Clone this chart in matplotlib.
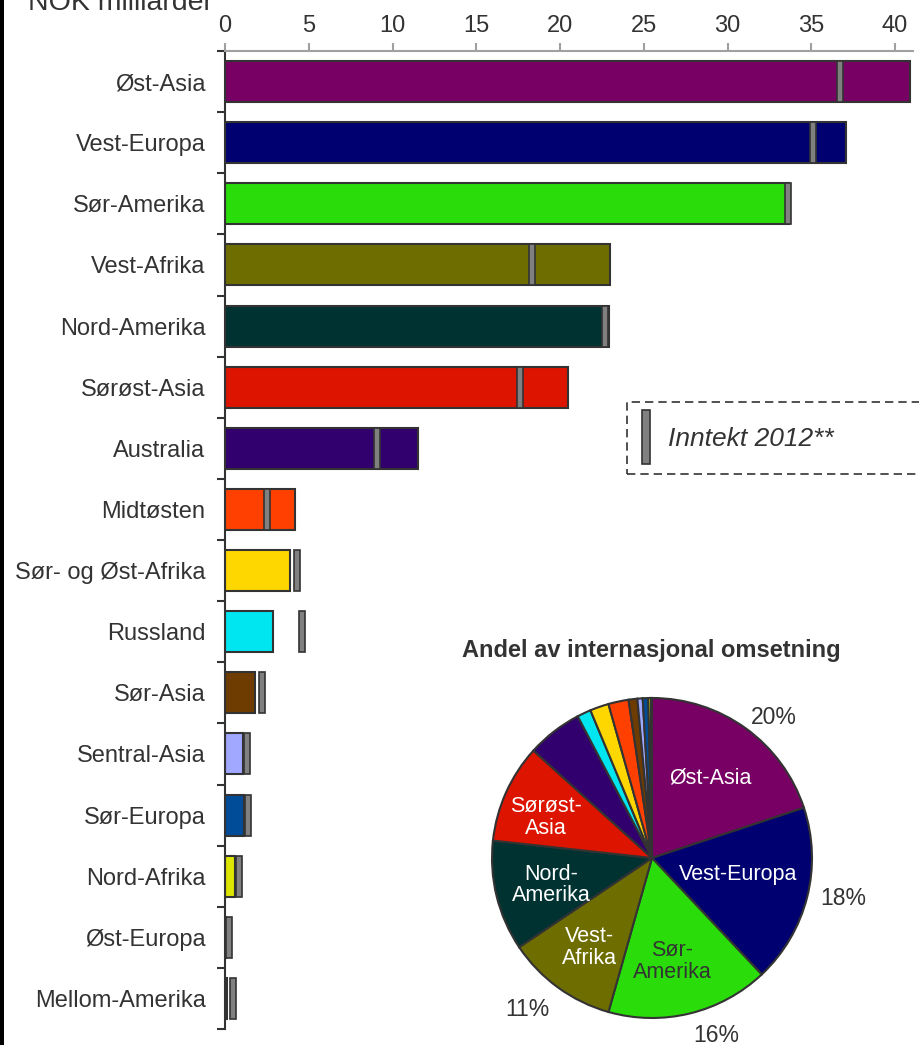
import matplotlib
matplotlib.use("Agg")
from matplotlib import pyplot as plt
from matplotlib.patches import Rectangle
import numpy as np

plt.rcParams['font.family'] = ['Liberation Sans', 'DejaVu Sans']

# regions, top to bottom
regions = ['Øst-Asia', 'Vest-Europa', 'Sør-Amerika', 'Vest-Afrika', 'Nord-Amerika',
           'Sørøst-Asia', 'Australia', 'Midtøsten', 'Sør- og Øst-Afrika', 'Russland',
           'Sør-Asia', 'Sentral-Asia', 'Sør-Europa', 'Nord-Afrika', 'Øst-Europa',
           'Mellom-Amerika']
# omsetning, NOK milliarder
values = [40.9, 37.1, 33.7, 23.0, 22.9, 20.5, 11.5, 4.2, 3.9, 2.87,
          1.81, 1.1, 1.15, 0.58, 0.05, 0.12]
# inntekt 2012
income_2012 = [36.7, 35.1, 33.6, 18.3, 22.7, 17.6, 9.1, 2.5, 4.3, 4.6,
               2.2, 1.3, 1.35, 0.82, 0.24, 0.46]
colors = ['#780064', '#000070', '#2adc0a', '#6e6e00', '#003232',
          '#dc1400', '#32006e', '#ff4000', '#ffd700', '#00e6f0',
          '#6e3c00', '#a0a8ff', '#004c98', '#dce600', '#505050',
          '#303030']

# slice order in the pie
pie_order = ['Øst-Asia', 'Vest-Europa', 'Sør-Amerika', 'Vest-Afrika', 'Nord-Amerika',
             'Sørøst-Asia', 'Australia', 'Russland', 'Sør- og Øst-Afrika', 'Midtøsten',
             'Sør-Asia', 'Sentral-Asia', 'Sør-Europa', 'Nord-Afrika', 'Øst-Europa',
             'Mellom-Amerika']
# percentage labels outside the pie: (angle in degrees, radius)
pie_pct = {'Øst-Asia': (49, 1.16),
           'Vest-Europa': (-12, 1.225),
           'Sør-Amerika': (-70, 1.18),
           'Vest-Afrika': (-129.5, 1.225)}
# inner pie labels: (text, angle in degrees, radius)
pie_inner = {'Øst-Asia': ('Øst-Asia', 54, 0.62),
             'Vest-Europa': ('Vest-Europa', -11, 0.55),
             'Sør-Amerika': ('Sør-\nAmerika', -79, 0.66),
             'Vest-Afrika': ('Vest-\nAfrika', -125, 0.68),
             'Nord-Amerika': ('Nord-\nAmerika', -165, 0.65),
             'Sørøst-Asia': ('Sørøst-\nAsia', 159, 0.71)}

txt = '#333333'
W, H = 919, 1045
fig = plt.figure(figsize=(W / 100, H / 100), dpi=100)

ax = fig.add_axes([225 / W, 1 - 1029 / H, (41.1 * 16.75) / W, (1029 - 51) / H])
y = np.arange(len(regions))
ax.barh(y, values, height=0.67, color=colors, edgecolor='#333333', linewidth=1.5, zorder=2)
mw = 0.36
ax.barh(y, [mw] * len(y), left=[v - mw / 2 for v in income_2012], height=0.67,
        color='#808080', edgecolor='#333333', linewidth=1.2, zorder=3)

ax.set_xlim(0, 41.1)
ax.set_ylim(len(regions) - 0.5, -0.5)
ax.xaxis.tick_top()
ax.set_xticks(np.arange(0, 41, 5))
ax.tick_params(axis='x', colors='#a0a0a0', labelcolor=txt, labelsize=17,
               length=6, width=1.5, pad=4)
ax.set_yticks(y)
ax.set_yticklabels(regions)
ax.set_yticks(np.arange(-0.5, len(regions)), minor=True)
ax.tick_params(axis='y', which='major', length=0, pad=14, labelsize=17, labelcolor=txt)
ax.tick_params(axis='y', which='minor', length=6, width=1.5, color='#333333')
for s in ['right', 'bottom']:
    ax.spines[s].set_visible(False)
ax.spines['top'].set_color('#a0a0a0')
ax.spines['top'].set_linewidth(1.5)
ax.spines['left'].set_color('#333333')
ax.spines['left'].set_linewidth(1.5)

fig.text(28 / W, 1 - 10 / H, 'NOK milliarder', fontsize=20.5, color=txt,
         ha='left', va='baseline')
fig.add_artist(Rectangle((0, 0), 4 / W, 1, transform=fig.transFigure,
                         color='black', lw=0))

# legend box
fig.add_artist(Rectangle((627 / W, 1 - 474 / H), 320 / W, 72 / H, transform=fig.transFigure,
                         fill=False, edgecolor='#333333', linestyle=(0, (5, 3)), lw=1.2))
fig.add_artist(Rectangle((642 / W, 1 - 464 / H), 8 / W, 54 / H, transform=fig.transFigure,
                         facecolor='#808080', edgecolor='#333333', lw=1.2))
fig.text(668 / W, 1 - 439 / H, 'Inntekt 2012**', fontsize=19, style='italic',
         color=txt, ha='left', va='center')

# pie
pax = fig.add_axes([(652 - 160) / W, 1 - (858 + 160) / H, 320 / W, 320 / H])
idx = [regions.index(r) for r in pie_order]
pvals = [values[i] for i in idx]
pcols = [colors[i] for i in idx]
total = sum(pvals)

wedges, _ = pax.pie(pvals, colors=pcols, startangle=90, counterclock=False,
                    wedgeprops=dict(edgecolor='#333333', linewidth=1.5))
for w in wedges:
    w.set_clip_on(False)
pax.set_xlim(-1, 1)
pax.set_ylim(-1, 1)
pax.set_aspect('equal')

for name, v in zip(pie_order, pvals):
    if name in pie_pct:
        ang, r = pie_pct[name]
        a = np.deg2rad(ang)
        pax.text(r * np.cos(a), r * np.sin(a), '%d%%' % round(100 * v / total),
                 fontsize=16.5, color=txt, ha='center', va='center')
    if name in pie_inner:
        label, ang, r = pie_inner[name]
        a = np.deg2rad(ang)
        c = txt if name == 'Sør-Amerika' else 'white'
        pax.text(r * np.cos(a), r * np.sin(a), label, fontsize=15.5, color=c,
                 ha='center', va='center', linespacing=1.05)

fig.text(651 / W, 1 - 650 / H, 'Andel av internasjonal omsetning', fontsize=17,
         fontweight='bold', color=txt, ha='center', va='center')

fig.savefig('out.png', dpi=100)
